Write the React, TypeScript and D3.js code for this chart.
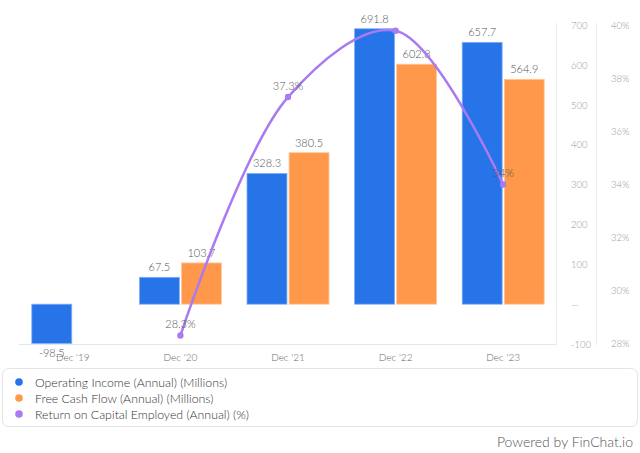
import React from "react";
import * as d3 from "d3";

const categories = ["Dec '19", "Dec '20", "Dec '21", "Dec '22", "Dec '23"];
const operatingIncome: (number | null)[] = [-98.5, 67.5, 328.3, 691.8, 657.7];
const freeCashFlow: (number | null)[] = [null, 103.7, 380.5, 602.8, 564.9];
const roce: (number | null)[] = [null, 28.3, 37.3, 39.8, 34.0];
const roceLabels: (string | null)[] = [null, "28.3%", "37.3%", null, "34%"];
const leftTicks = [-100, 0, 100, 200, 300, 400, 500, 600, 700];
const rightTicks = [28, 30, 32, 34, 36, 38, 40];
const legendItems = [
  "Operating Income (Annual) (Millions)",
  "Free Cash Flow (Annual) (Millions)",
  "Return on Capital Employed (Annual) (%)",
];

const BLUE = "#2773E8";
const ORANGE = "#FF984B";
const PURPLE = "#A97AF0";
const FONT = "Lato, 'DejaVu Sans', sans-serif";

export default function App() {
  const W = 640, H = 453;
  const x = d3.scaleBand<string>().domain(categories).range([19, 557]).paddingInner(0.238).paddingOuter(0.119);
  const series = ["oi", "fcf"];
  const x1 = d3.scaleBand<string>().domain(series).range([0, x.bandwidth()]).paddingInner(0.05);
  const y = d3.scaleLinear().domain([-100, 700]).range([344, 25.5]);
  const yp = d3.scaleLinear().domain([28, 40]).range([343.5, 25.5]);

  const pts = categories
    .map((c, i) => ({ c, v: roce[i], i }))
    .filter((d) => d.v != null) as { c: string; v: number; i: number }[];
  const line = d3
    .line<{ c: string; v: number }>()
    .x((d) => (x(d.c) as number) + x.bandwidth() / 2)
    .y((d) => yp(d.v))
    .curve(d3.curveCatmullRom.alpha(0.5));

  const bars: JSX.Element[] = [];
  const labels: JSX.Element[] = [];
  categories.forEach((c, i) => {
    const vals = [operatingIncome[i], freeCashFlow[i]];
    vals.forEach((v, k) => {
      if (v == null) return;
      const bx = (x(c) as number) + (x1(series[k]) as number);
      const bw = x1.bandwidth();
      const top = Math.min(y(v), y(0));
      const h = Math.abs(y(v) - y(0));
      bars.push(
        <rect key={`b${i}${k}`} x={bx} y={top} width={bw} height={h}
          fill={k === 0 ? BLUE : ORANGE} stroke={k === 0 ? "#7fb0f5" : "#ffc9a0"} strokeWidth={0.8} />
      );
      labels.push(
        <text key={`l${i}${k}`} x={bx + bw / 2} y={v >= 0 ? y(v) - 6 : y(v) + 14}
          textAnchor="middle" fontSize={11} fill="#555" fontFamily={FONT} fontWeight={300}>
          {v.toFixed(1)}
        </text>
      );
    });
  });

  return (
    <svg width={W} height={H} style={{ position: "absolute", left: 0, top: 0 }}>
      <rect width={W} height={H} fill="#fff" />
      <line x1={19} x2={557} y1={344.5} y2={344.5} stroke="#e6e6e6" />
      <line x1={556.5} x2={556.5} y1={23} y2={345} stroke="#ececec" />
      <line x1={596.5} x2={596.5} y1={23} y2={345} stroke="#ececec" />
      {leftTicks.map((t) => (
        <text key={`lt${t}`} x={571} y={y(t) + 3.5} fontSize={9.5} fill="#999" fontFamily={FONT} fontWeight={300}>
          {t === 0 ? "—" : String(t)}
        </text>
      ))}
      {rightTicks.map((t) => (
        <text key={`rt${t}`} x={611} y={yp(t) + 3.5} fontSize={9.5} fill="#999" fontFamily={FONT} fontWeight={300}>
          {`${t}%`}
        </text>
      ))}
      {bars}
      {labels}
      {categories.map((c) => (
        <text key={`x${c}`} x={(x(c) as number) + x.bandwidth() / 2} y={360.5} textAnchor="middle"
          fontSize={10} fill="#666" fontFamily={FONT} fontWeight={300}>
          {c}
        </text>
      ))}
      <path d={line(pts) || ""} fill="none" stroke={PURPLE} strokeWidth={2.5} />
      {pts.map((d) => (
        <circle key={`p${d.i}`} cx={(x(d.c) as number) + x.bandwidth() / 2} cy={yp(d.v)} r={3.2} fill={PURPLE} />
      ))}
      {pts.map((d) =>
        roceLabels[d.i] ? (
          <text key={`pl${d.i}`} x={(x(d.c) as number) + x.bandwidth() / 2} y={yp(d.v) - 7.5}
            textAnchor="middle" fontSize={11} fill="#555" fontFamily={FONT} fontWeight={300}>
            {roceLabels[d.i]}
          </text>
        ) : null
      )}
      <rect x={2.5} y={368.5} width={635} height={58} rx={6} fill="#fff" stroke="#e4e4e4" />
      {legendItems.map((t, i) => (
        <g key={`lg${i}`}>
          <circle cx={19} cy={382 + i * 16} r={3.8} fill={[BLUE, ORANGE, PURPLE][i]} />
          <text x={35} y={386.5 + i * 16} fontSize={12.3} fill="#333" fontFamily={FONT} fontWeight={300}>
            {t}
          </text>
        </g>
      ))}
      <text x={633} y={447} textAnchor="end" fontSize={14} fill="#555" fontFamily={FONT} fontWeight={300}>
        Powered by FinChat.io
      </text>
    </svg>
  );
}
